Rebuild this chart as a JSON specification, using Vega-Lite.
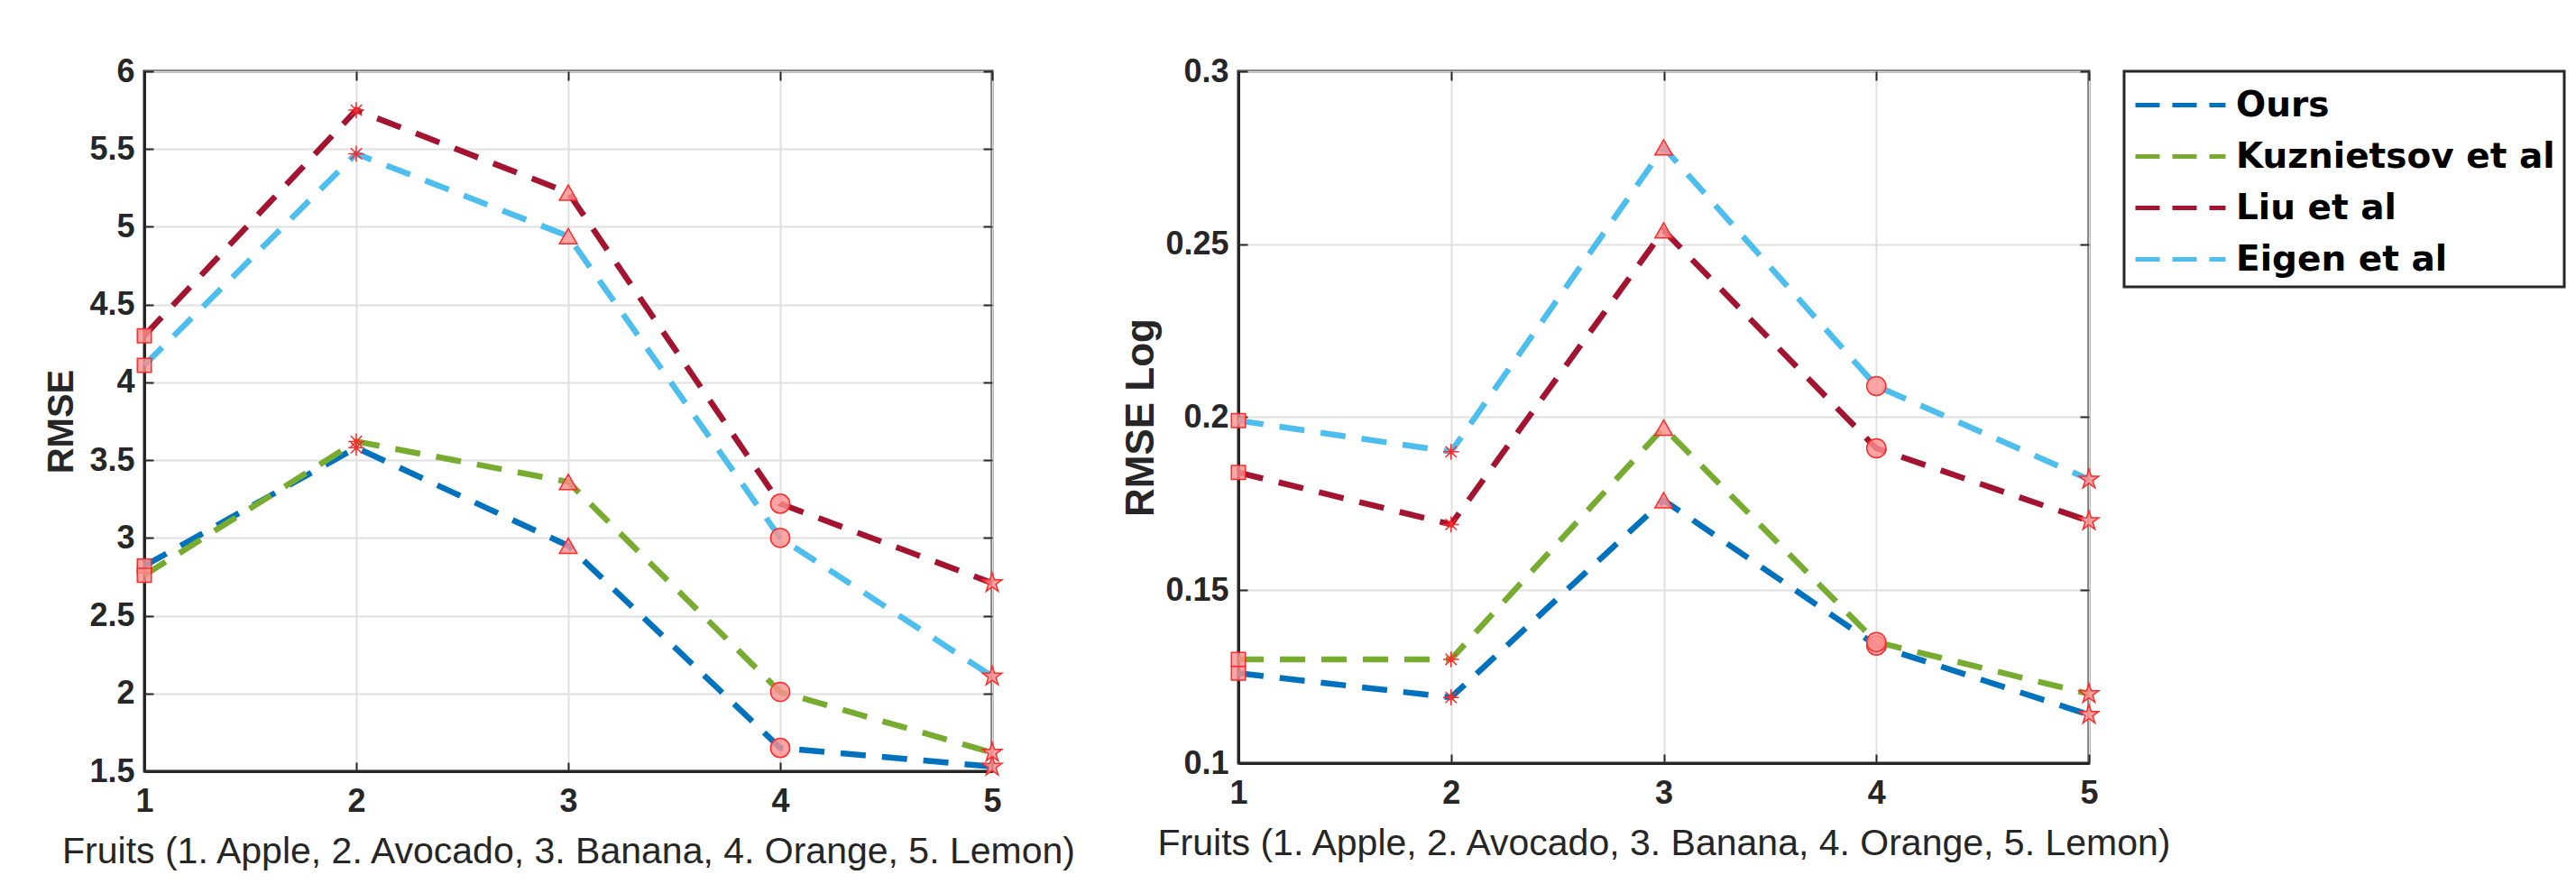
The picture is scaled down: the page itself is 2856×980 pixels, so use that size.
{
  "$schema": "https://vega.github.io/schema/vega-lite/v6.json",
  "background": "white",
  "padding": {"left": 47, "top": 59, "right": 10, "bottom": 10},
  "data": {
    "values": [
      {"metric": "RMSE", "method": "Ours", "fruit": 1, "value": 2.82},
      {"metric": "RMSE", "method": "Ours", "fruit": 2, "value": 3.58},
      {"metric": "RMSE", "method": "Ours", "fruit": 3, "value": 2.95},
      {"metric": "RMSE", "method": "Ours", "fruit": 4, "value": 1.65},
      {"metric": "RMSE", "method": "Ours", "fruit": 5, "value": 1.53},
      {"metric": "RMSE", "method": "Kuznietsov et al", "fruit": 1, "value": 2.76},
      {"metric": "RMSE", "method": "Kuznietsov et al", "fruit": 2, "value": 3.62},
      {"metric": "RMSE", "method": "Kuznietsov et al", "fruit": 3, "value": 3.36},
      {"metric": "RMSE", "method": "Kuznietsov et al", "fruit": 4, "value": 2.01},
      {"metric": "RMSE", "method": "Kuznietsov et al", "fruit": 5, "value": 1.62},
      {"metric": "RMSE", "method": "Liu et al", "fruit": 1, "value": 4.30},
      {"metric": "RMSE", "method": "Liu et al", "fruit": 2, "value": 5.75},
      {"metric": "RMSE", "method": "Liu et al", "fruit": 3, "value": 5.22},
      {"metric": "RMSE", "method": "Liu et al", "fruit": 4, "value": 3.22},
      {"metric": "RMSE", "method": "Liu et al", "fruit": 5, "value": 2.71},
      {"metric": "RMSE", "method": "Eigen et al", "fruit": 1, "value": 4.11},
      {"metric": "RMSE", "method": "Eigen et al", "fruit": 2, "value": 5.47},
      {"metric": "RMSE", "method": "Eigen et al", "fruit": 3, "value": 4.94},
      {"metric": "RMSE", "method": "Eigen et al", "fruit": 4, "value": 3.00},
      {"metric": "RMSE", "method": "Eigen et al", "fruit": 5, "value": 2.11},
      {"metric": "RMSE Log", "method": "Ours", "fruit": 1, "value": 0.126},
      {"metric": "RMSE Log", "method": "Ours", "fruit": 2, "value": 0.119},
      {"metric": "RMSE Log", "method": "Ours", "fruit": 3, "value": 0.176},
      {"metric": "RMSE Log", "method": "Ours", "fruit": 4, "value": 0.134},
      {"metric": "RMSE Log", "method": "Ours", "fruit": 5, "value": 0.114},
      {"metric": "RMSE Log", "method": "Kuznietsov et al", "fruit": 1, "value": 0.130},
      {"metric": "RMSE Log", "method": "Kuznietsov et al", "fruit": 2, "value": 0.130},
      {"metric": "RMSE Log", "method": "Kuznietsov et al", "fruit": 3, "value": 0.197},
      {"metric": "RMSE Log", "method": "Kuznietsov et al", "fruit": 4, "value": 0.135},
      {"metric": "RMSE Log", "method": "Kuznietsov et al", "fruit": 5, "value": 0.120},
      {"metric": "RMSE Log", "method": "Liu et al", "fruit": 1, "value": 0.184},
      {"metric": "RMSE Log", "method": "Liu et al", "fruit": 2, "value": 0.169},
      {"metric": "RMSE Log", "method": "Liu et al", "fruit": 3, "value": 0.254},
      {"metric": "RMSE Log", "method": "Liu et al", "fruit": 4, "value": 0.191},
      {"metric": "RMSE Log", "method": "Liu et al", "fruit": 5, "value": 0.170},
      {"metric": "RMSE Log", "method": "Eigen et al", "fruit": 1, "value": 0.199},
      {"metric": "RMSE Log", "method": "Eigen et al", "fruit": 2, "value": 0.190},
      {"metric": "RMSE Log", "method": "Eigen et al", "fruit": 3, "value": 0.278},
      {"metric": "RMSE Log", "method": "Eigen et al", "fruit": 4, "value": 0.209},
      {"metric": "RMSE Log", "method": "Eigen et al", "fruit": 5, "value": 0.182}
    ]
  },
  "config": {
    "font": "Liberation Sans",
    "view": {"stroke": "#262626", "strokeWidth": 3},
    "axis": {
      "labelFont": "Liberation Sans",
      "labelFontSize": 36,
      "labelFontWeight": "bold",
      "labelColor": "#262626",
      "labelFlush": false,
      "labelOverlap": false,
      "titleFont": "Liberation Sans",
      "titleColor": "#262626",
      "domainColor": "#262626",
      "domainWidth": 3,
      "tickColor": "#262626",
      "tickWidth": 2,
      "tickSize": -10,
      "labelPadding": 21,
      "gridColor": "#e0e0e0",
      "gridWidth": 2
    },
    "axisX": {"titleFontSize": 41, "titleFontWeight": "normal", "titlePadding": 18, "labelPadding": 26},
    "axisY": {"titleFontSize": 40, "titleFontWeight": "bold", "titlePadding": 10},
    "legend": {"strokeWidth": 3}
  },
  "bounds": "flush",
  "spacing": 273,
  "hconcat": [
    {
      "width": 940,
      "height": 776,
      "transform": [{"filter": "datum.metric == 'RMSE'"}],
      "resolve": {"axis": {"x": "independent", "y": "independent"}},
      "layer": [
        {
          "mark": {"type": "line", "strokeDash": [28, 18], "strokeWidth": 6.5},
          "encoding": {
            "x": {
              "field": "fruit",
              "type": "quantitative",
              "scale": {"domain": [1, 5], "nice": false},
              "axis": {"values": [1, 2, 3, 4, 5], "format": "d", "title": "Fruits (1. Apple, 2. Avocado, 3. Banana, 4. Orange, 5. Lemon)"}
            },
            "y": {
              "field": "value",
              "type": "quantitative",
              "scale": {"domain": [1.5, 6], "nice": false, "zero": false},
              "axis": {"values": [1.5, 2, 2.5, 3, 3.5, 4, 4.5, 5, 5.5, 6], "format": "~g", "title": "RMSE"}
            },
            "color": {
              "field": "method",
              "type": "nominal",
              "scale": {
                "domain": ["Ours", "Kuznietsov et al", "Liu et al", "Eigen et al"],
                "range": ["#0072BD", "#77AC30", "#A2142F", "#4DBEEE"]
              },
              "legend": {
                "title": null,
                "orient": "right",
                "offset": -55,
                "symbolType": "M-1,0L3,0",
                "symbolSize": 2500,
                "symbolStrokeWidth": 5,
                "symbolDash": [27, 14],
                "labelOffset": 59,
                "labelExpr": "datum.label == 'Ours' ? '\u00a0Ours' : datum.label",
                "labelFont": "DejaVu Sans",
                "labelFontWeight": "bold",
                "labelFontSize": 39,
                "labelColor": "black",
                "labelLimit": 1000,
                "padding": 10,
                "rowPadding": 9,
                "strokeColor": "#262626",
                "fillColor": "white"
              }
            },
            "order": {"field": "fruit"}
          }
        },
        {
          "mark": {"type": "point", "filled": true, "fill": "#ff8f8f", "fillOpacity": 0.8, "stroke": "#ff2a2a", "strokeWidth": 1.5, "opacity": 1},
          "encoding": {
            "x": {
              "field": "fruit",
              "type": "quantitative",
              "axis": {"orient": "top", "values": [1, 2, 3, 4, 5], "labels": false, "title": null, "grid": false, "domain": false}
            },
            "y": {
              "field": "value",
              "type": "quantitative",
              "axis": {"orient": "right", "values": [1.5, 2, 2.5, 3, 3.5, 4, 4.5, 5, 5.5, 6], "labels": false, "title": null, "grid": false, "domain": false}
            },
            "shape": {
              "field": "fruit",
              "type": "ordinal",
              "scale": {
                "domain": [1, 2, 3, 4, 5],
                "range": ["square", "M0,-1L0,1M-1,0L1,0M-0.7,-0.7L0.7,0.7M-0.7,0.7L0.7,-0.7", "triangle-up", "circle", "M0,-1L0.225,-0.309L0.951,-0.309L0.363,0.118L0.588,0.809L0,0.382L-0.588,0.809L-0.363,0.118L-0.951,-0.309L-0.225,-0.309Z"]
              },
              "legend": null
            },
            "size": {
              "field": "fruit",
              "type": "ordinal",
              "scale": {"domain": [1, 2, 3, 4, 5], "range": [240, 520, 420, 380, 560]},
              "legend": null
            },
            "detail": {"field": "method"}
          }
        }
      ]
    },
    {
      "width": 943,
      "height": 767,
      "transform": [{"filter": "datum.metric == 'RMSE Log'"}],
      "resolve": {"axis": {"x": "independent", "y": "independent"}},
      "layer": [
        {
          "mark": {"type": "line", "strokeDash": [28, 18], "strokeWidth": 6.5},
          "encoding": {
            "x": {
              "field": "fruit",
              "type": "quantitative",
              "scale": {"domain": [1, 5], "nice": false},
              "axis": {"values": [1, 2, 3, 4, 5], "format": "d", "title": "Fruits (1. Apple, 2. Avocado, 3. Banana, 4. Orange, 5. Lemon)"}
            },
            "y": {
              "field": "value",
              "type": "quantitative",
              "scale": {"domain": [0.1, 0.3], "nice": false, "zero": false},
              "axis": {"values": [0.1, 0.15, 0.2, 0.25, 0.3], "format": "~g", "title": "RMSE Log", "titleFontSize": 44, "titlePadding": 4}
            },
            "color": {"field": "method", "type": "nominal"},
            "order": {"field": "fruit"}
          }
        },
        {
          "mark": {"type": "point", "filled": true, "fill": "#ff8f8f", "fillOpacity": 0.8, "stroke": "#ff2a2a", "strokeWidth": 1.5, "opacity": 1},
          "encoding": {
            "x": {
              "field": "fruit",
              "type": "quantitative",
              "axis": {"orient": "top", "values": [1, 2, 3, 4, 5], "labels": false, "title": null, "grid": false, "domain": false}
            },
            "y": {
              "field": "value",
              "type": "quantitative",
              "axis": {"orient": "right", "values": [0.1, 0.15, 0.2, 0.25, 0.3], "labels": false, "title": null, "grid": false, "domain": false}
            },
            "shape": {"field": "fruit", "type": "ordinal", "legend": null},
            "size": {"field": "fruit", "type": "ordinal", "legend": null},
            "detail": {"field": "method"}
          }
        }
      ]
    }
  ]
}
